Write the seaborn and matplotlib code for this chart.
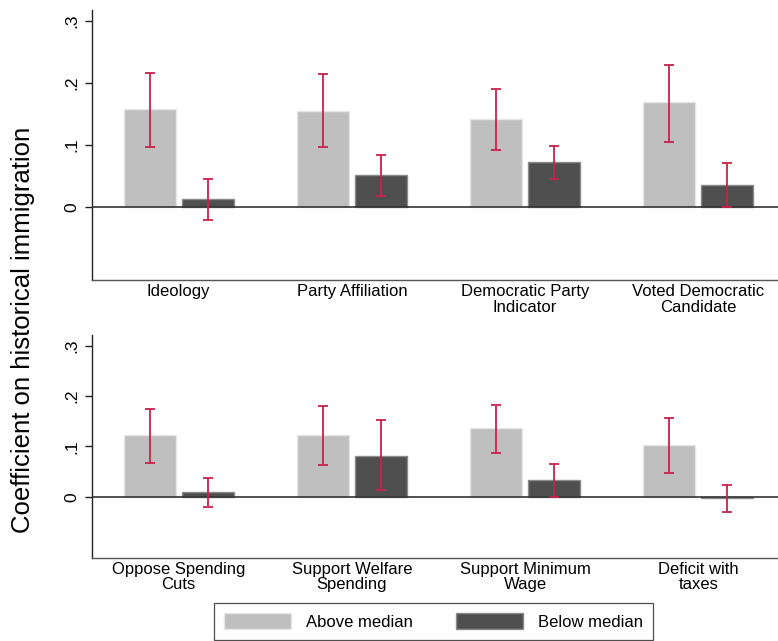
import matplotlib
matplotlib.use("Agg")
import matplotlib.pyplot as plt
from matplotlib.patches import Patch
import seaborn as sns
import pandas as pd

sns.set_style("white")
plt.rcParams['font.family'] = ['Liberation Sans', 'DejaVu Sans']
plt.rcParams['text.color'] = 'black'
plt.rcParams['xtick.color'] = 'black'
plt.rcParams['ytick.color'] = 'black'
plt.rcParams['axes.labelcolor'] = 'black'

groups = ["Above median", "Below median"]

cats_top = ["Ideology", "Party Affiliation", "Democratic Party\nIndicator", "Voted Democratic\nCandidate"]
above_top = [0.157, 0.155, 0.141, 0.168]
above_top_lo = [0.097, 0.096, 0.091, 0.105]
above_top_hi = [0.215, 0.214, 0.190, 0.229]
below_top = [0.012, 0.051, 0.072, 0.035]
below_top_lo = [-0.021, 0.017, 0.045, 0.000]
below_top_hi = [0.045, 0.084, 0.098, 0.070]

cats_bot = ["Oppose Spending\nCuts", "Support Welfare\nSpending", "Support Minimum\nWage", "Deficit with\ntaxes"]
above_bot = [0.122, 0.122, 0.136, 0.102]
above_bot_lo = [0.068, 0.063, 0.087, 0.047]
above_bot_hi = [0.175, 0.181, 0.183, 0.156]
below_bot = [0.010, 0.082, 0.033, -0.003]
below_bot_lo = [-0.020, 0.013, -0.001, -0.030]
below_bot_hi = [0.038, 0.153, 0.066, 0.024]

yticks = [0, 0.1, 0.2, 0.3]
ytick_labels = ["0", ".1", ".2", ".3"]

LIGHT = "#bfbfbf"
DARK = "#4f4f4f"
ERR = "#c9214b"

fig = plt.figure(figsize=(7.78, 6.41), dpi=100)
ax1 = fig.add_axes([0.1183, 0.5632, 0.8817, 0.4212])
ax2 = fig.add_axes([0.1183, 0.1300, 0.8817, 0.3474])


def panel(ax, cats, a, alo, ahi, b, blo, bhi, ylim):
    df = pd.DataFrame({
        "cat": cats + cats,
        "grp": [groups[0]] * len(cats) + [groups[1]] * len(cats),
        "val": a + b,
    })
    sns.barplot(data=df, x="cat", y="val", hue="grp", order=cats, hue_order=groups,
                palette={groups[0]: LIGHT, groups[1]: DARK}, saturation=1,
                errorbar=None, width=0.67, gap=0.1, ax=ax, legend=False, zorder=2)
    edges = ["#e6e6e6", "#8a8a8a"]
    lows = [alo, blo]
    highs = [ahi, bhi]
    vals = [a, b]
    bar_conts = list(ax.containers)
    for k, cont in enumerate(bar_conts):
        xs = []
        for bar in cont:
            bar.set_edgecolor(edges[k])
            bar.set_linewidth(1.0)
            xs.append(bar.get_x() + bar.get_width() / 2)
        yerr = [[v - lo for v, lo in zip(vals[k], lows[k])],
                [hi - v for v, hi in zip(vals[k], highs[k])]]
        ax.errorbar(xs, vals[k], yerr=yerr, fmt="none", ecolor=ERR,
                    elinewidth=1.3, capsize=3.3, capthick=1.3, zorder=4)
    ax.axhline(0, color="#333333", lw=1.2, zorder=3)
    ax.set_xlim(-0.5, 3.46)
    ax.set_ylim(*ylim)
    ax.set_yticks(yticks)
    ax.set_yticklabels(ytick_labels, rotation=90, va="center", fontsize=12.5)
    ax.tick_params(axis="y", length=5, width=1, color="#222222", pad=4, left=True)
    ax.tick_params(axis="x", length=0, pad=3, labelsize=12)
    for lab in ax.get_xticklabels():
        lab.set_linespacing(1.05)
    ax.set_xlabel("")
    ax.set_ylabel("")
    for s in ["top", "right"]:
        ax.spines[s].set_visible(False)
    ax.spines["left"].set_color("#222222")
    ax.spines["left"].set_linewidth(1.0)
    ax.spines["bottom"].set_color("#555555")
    ax.spines["bottom"].set_linewidth(1.0)


panel(ax1, cats_top, above_top, above_top_lo, above_top_hi,
      below_top, below_top_lo, below_top_hi, (-0.118, 0.317))
panel(ax2, cats_bot, above_bot, above_bot_lo, above_bot_hi,
      below_bot, below_bot_lo, below_bot_hi, (-0.121, 0.3215))

fig.text(23 / 778, 0.486, "Coefficient on historical immigration", rotation=90,
         ha="center", va="center", fontsize=18.5)

handles = [Patch(facecolor=LIGHT, edgecolor="#e6e6e6", label=groups[0]),
           Patch(facecolor=DARK, edgecolor="#8a8a8a", label=groups[1])]
leg = fig.legend(handles=handles, loc="upper center", bbox_to_anchor=(433.5 / 778, 1 - 603 / 641),
                 ncol=2, frameon=True, fancybox=False, fontsize=12, handlelength=4.0,
                 handleheight=1.1, handletextpad=0.9, columnspacing=2.6, borderpad=0.6,
                 borderaxespad=0)
leg.get_frame().set_edgecolor("#222222")
leg.get_frame().set_linewidth(0.9)

fig.savefig("out.png", dpi=100)
